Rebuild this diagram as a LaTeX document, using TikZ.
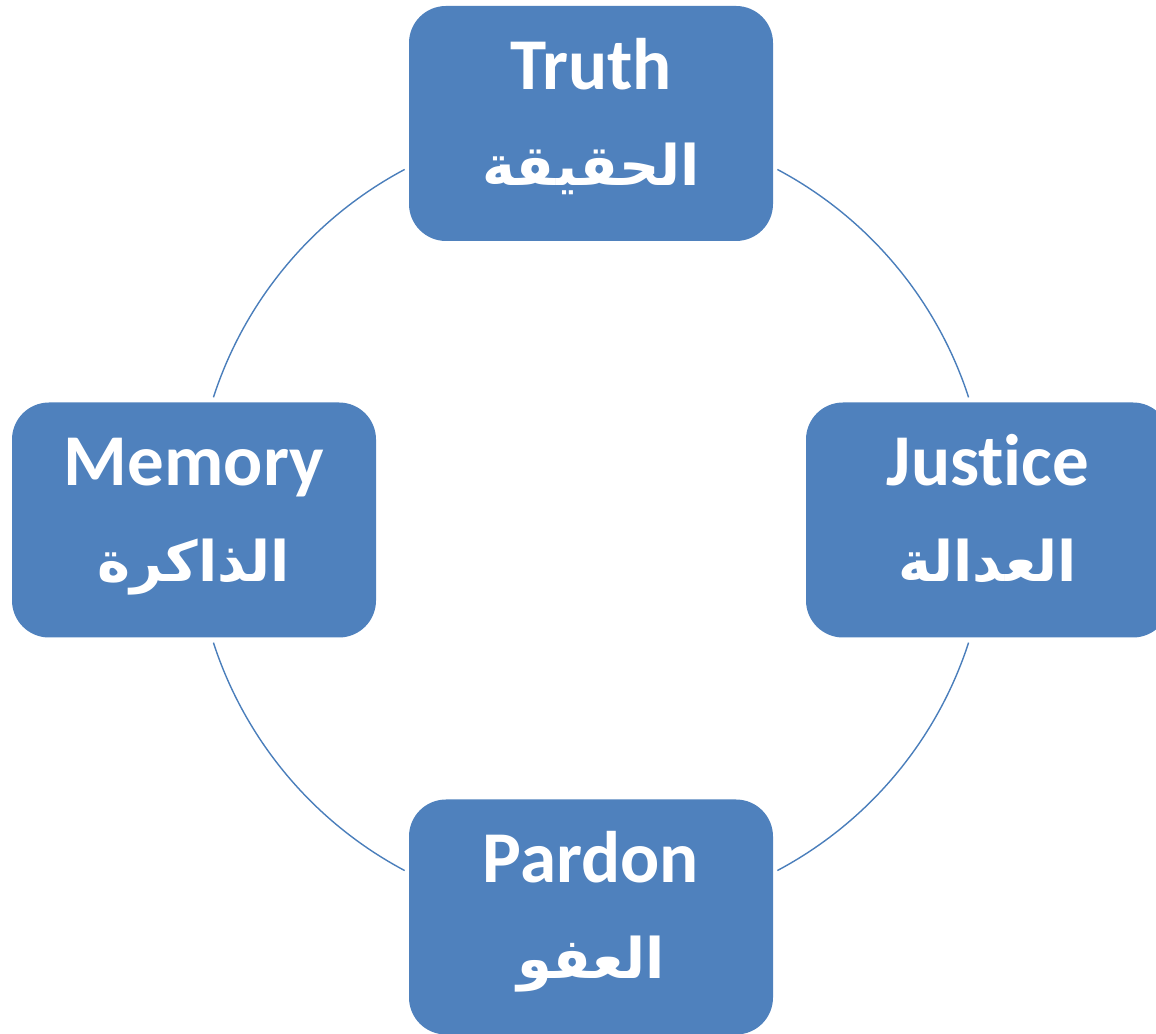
\documentclass[tikz,border=0pt]{standalone}
\usepackage{fontspec}
\usetikzlibrary{calc}
\setmainfont[Ligatures=NoCommon]{Carlito}
\newfontfamily\arabicfont[Script=Arabic]{DejaVu Sans}
\TeXXeTstate=1
\definecolor{boxblue}{HTML}{4F81BD}
\definecolor{arcblue}{HTML}{4A7EBB}
\begin{document}
\begin{tikzpicture}[x=1pt,y=1pt,
  box/.style={fill=boxblue, rounded corners=37pt, minimum width=364pt, minimum height=235pt, inner sep=0pt},
  entext/.style={text=white, font=\fontsize{73}{80}\selectfont\bfseries, anchor=base, inner sep=0pt},
  artext/.style={text=white, font=\arabicfont\fontsize{56}{64}\selectfont\bfseries, anchor=base, inner sep=0pt},
  cyc/.style={draw=arcblue, line width=1.4pt}]
\useasboundingbox (0,0) rectangle (1156,1033);
\coordinate (c) at (591,513);
\node[box] (truth) at (591,909.5) {};
\node[box] (memory) at (194,513) {};
\node[box] (justice) at (988,513) {};
\node[box] (pardon) at (591,116) {};
\foreach \n/\en/\ar in {truth/Truth/الحقيقة, memory/Memory/الذاكرة, justice/Justice/العدالة, pardon/Pardon/العفو}{
  \node[entext] (\n-en) at ([yshift=34pt]\n.center) {\en};
  \node[artext] (\n-ar) at ([yshift=-62pt]\n.center) {\beginR\ar\endR};
}
\coordinate (a1) at ($(c)+(118:397)$);
\coordinate (a2) at ($(c)+(18:397)$);
\coordinate (a3) at ($(c)+(198:397)$);
\coordinate (a4) at ($(c)+(298:397)$);
\draw[cyc] (a1) arc[start angle=118, end angle=162, radius=397];
\draw[cyc] (a2) arc[start angle=18, end angle=62, radius=397];
\draw[cyc] (a3) arc[start angle=198, end angle=242, radius=397];
\draw[cyc] (a4) arc[start angle=298, end angle=342, radius=397];
\end{tikzpicture}
\end{document}
